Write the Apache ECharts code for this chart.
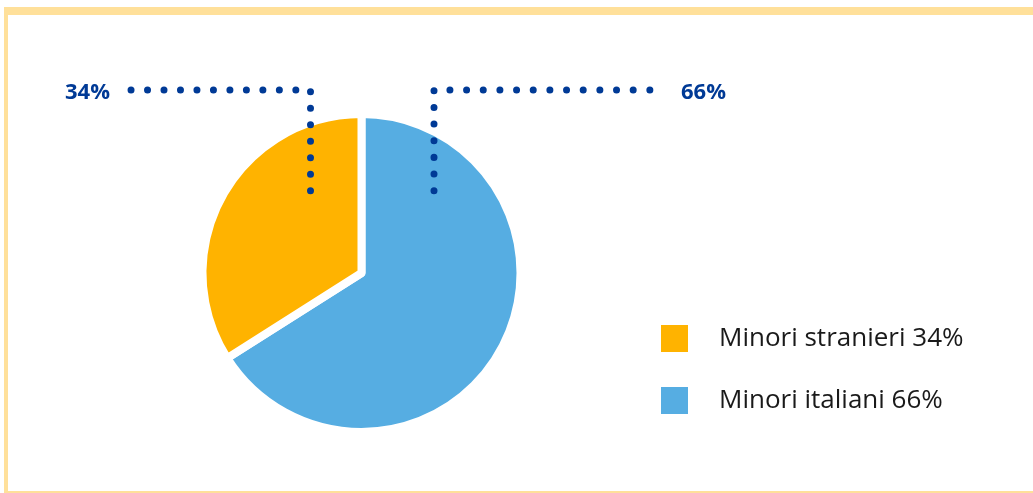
<!DOCTYPE html>
<html><head><meta charset="utf-8">
<script src="https://cdn.jsdelivr.net/npm/echarts@6/dist/echarts.min.js"></script>
<style>
html,body{margin:0;padding:0;background:#fff;overflow:hidden;}
#frame{position:absolute;left:4px;top:7px;width:1100px;height:476px;border-left:4px solid #FFE09A;border-top:8px solid #FFE09A;border-bottom:4px solid #FFE09A;}
#chart{position:absolute;left:0;top:0;width:1033px;height:493px;}
</style></head><body>
<div id="frame"></div><div id="chart"></div>
<script>
const categories = ['Minori italiani', 'Minori stranieri'];
const values = [66, 34];
const sliceColors = ['#56ADE2', '#FFB300'];
const legendOrder = ['Minori stranieri', 'Minori italiani'];

const cx = 361.5, cy = 273, R = 159;
const navy = '#003A96';

const chart = echarts.init(document.getElementById('chart'), null, {renderer: 'canvas'});
const total = values.reduce((a, b) => a + b, 0);

// leader geometry relative to pie centre (drawn from inside the slice outwards)
const leaders = [
  { // 66%
    pts: [[cx + 72.5, cy - 82.3], [cx + 72.5, 90], [653, 90]],
    x: 681, align: 'left', gap: 16.65
  },
  { // 34%
    pts: [[cx - 51, cy - 82.3], [cx - 51, 90], [131, 90]],
    x: 110, align: 'right', gap: 16.47
  }
];

const pieData = categories.map((c, i) => ({name: c, value: values[i], itemStyle: {color: sliceColors[i]}}));

chart.setOption({
  animation: false,
  legend: {
    orient: 'vertical',
    left: 659, top: 323, padding: 0,
    itemWidth: 29, itemHeight: 29, itemGap: 31,
    icon: 'rect',
    data: legendOrder,
    formatter: function (name) {
      const i = categories.indexOf(name);
      return name + ' ' + Math.round(values[i] / total * 100) + '%';
    },
    textStyle: {fontFamily: 'Open Sans', fontSize: 26, lineHeight: 29, color: '#1a1a1a', padding: [0, 0, 0, 25]}
  },
  series: [{
    type: 'pie',
    center: [cx, cy],
    radius: [0, R],
    startAngle: 90,
    clockwise: true,
    data: pieData,
    itemStyle: {borderColor: '#fff', borderWidth: 8},
    label: {show: false},
    labelLine: {show: false},
    emphasis: {disabled: true},
    z: 2
  }, {
    type: 'pie',
    center: [cx, cy],
    radius: [0, R],
    startAngle: 90,
    clockwise: true,
    legendHoverLink: false,
    silent: true,
    data: categories.map((c, i) => ({
      name: c + ' ', value: values[i],
      labelLine: {show: true, smooth: false,
        lineStyle: {color: navy, width: 7, type: [0.01, leaders[i].gap], cap: 'round'}}
    })),
    itemStyle: {color: 'rgba(0,0,0,0)', borderWidth: 0},
    label: {
      show: true, position: 'outside',
      formatter: p => Math.round(p.value / total * 100) + '%',
      fontFamily: 'Open Sans', fontWeight: 'bold', fontSize: 22, color: navy
    },
    labelLine: {
      show: true, smooth: false,
      lineStyle: {color: navy, width: 7, type: [0.01, 16.6], cap: 'round'}
    },
    labelLayout: function (params) {
      const l = leaders[params.dataIndex];
      return {x: l.x, y: 93, align: l.align, verticalAlign: 'middle', labelLinePoints: l.pts};
    },
    emphasis: {disabled: true},
    z: 5
  }]
});
</script>
</body></html>
